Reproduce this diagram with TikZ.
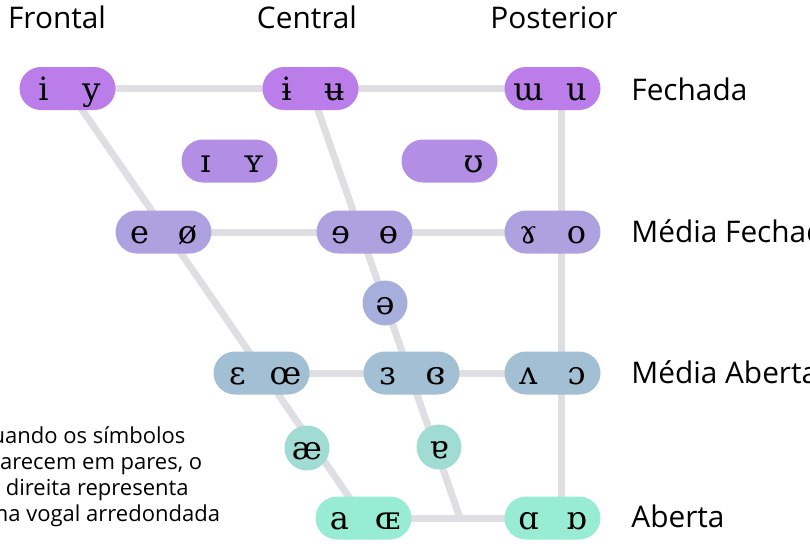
\documentclass[tikz,border=0pt]{standalone}
\usepackage{fontspec}
\setmainfont{Open Sans}
\newfontfamily\ipafont{DejaVu Serif}
\usetikzlibrary{backgrounds}
\definecolor{fechada}{RGB}{186,125,233}
\definecolor{quasefechada}{RGB}{178,142,228}
\definecolor{mediafechada}{RGB}{173,162,223}
\definecolor{media}{RGB}{166,175,219}
\definecolor{mediaaberta}{RGB}{163,191,212}
\definecolor{quaseaberta}{RGB}{160,220,212}
\definecolor{aberta}{RGB}{152,236,212}
\definecolor{linha}{RGB}{223,222,227}
\newcommand\pair[2]{\makebox[24pt]{#1}\makebox[24pt]{#2}}
\tikzset{
  vowel/.style={rectangle, rounded corners=10.75pt, minimum width=47.5pt,
    minimum height=21.5pt, inner sep=0pt, text height=11.5pt, text depth=0pt,
    font=\ipafont\fontsize{16}{16}\selectfont},
  single/.style={circle, minimum size=22.5pt, inner sep=0pt, text height=11.5pt,
    text depth=0pt, font=\ipafont\fontsize{16}{16}\selectfont},
  link/.style={draw=linha, line width=3.5pt},
  eixo/.style={inner sep=0pt, font=\fontsize{14.9}{18}\selectfont},
}
\begin{document}
\begin{tikzpicture}[x=0.5pt, y=-0.5pt]
      \useasboundingbox (0,0) rectangle (810,547);
      \clip (0,0) rectangle (810,547);
      % cabecalhos
      \draw
        (57,28) node[eixo, anchor=base] (frontal){Frontal}
        (307,28) node[eixo, anchor=base] (central){Central}
        (554,28) node[eixo, anchor=base] (posterior){Posterior}
        (631,100) node[eixo, anchor=base west] (lfechada){Fechada}
        (631,242) node[eixo, anchor=base west] (lmediafechada){Média Fechada}
        (631,383) node[eixo, anchor=base west] (lmediaaberta){Média Aberta}
        (631,527) node[eixo, anchor=base west] (laberta){Aberta};
      % vogais
      \draw
        (67.5,88.5) node[vowel, fill=fechada] (iy){\pair{i}{y}}
        (310.5,88.5) node[vowel, fill=fechada] (iu){\pair{ɨ}{ʉ}}
        (552.5,88.5) node[vowel, fill=fechada] (wu){\pair{ɯ}{u}}
        (229.5,161) node[vowel, fill=quasefechada] (IY){\pair{ɪ}{ʏ}}
        (449.5,161) node[vowel, fill=quasefechada] (U){\pair{}{ʊ}}
        (163.5,232) node[vowel, fill=mediafechada] (eo){\pair{e}{ø}}
        (364.5,232) node[vowel, fill=mediafechada] (ee){\pair{ɘ}{ɵ}}
        (552.5,232) node[vowel, fill=mediafechada] (go){\pair{ɤ}{o}}
        (385,303) node[single, fill=media] (schwa){ə}
        (261.5,373) node[vowel, fill=mediaaberta] (Eoe){\pair{ɛ}{œ}}
        (411.5,373) node[vowel, fill=mediaaberta] (ErB){\pair{ɜ}{ɞ}}
        (552.5,373) node[vowel, fill=mediaaberta] (vc){\pair{ʌ}{ɔ}}
        (307,448) node[single, fill=quaseaberta] (ae){æ}
        (439,447) node[single, fill=quaseaberta] (tA){ɐ}
        (363.5,518) node[vowel, fill=aberta] (aOE){\pair{a}{ɶ}}
        (552.5,518) node[vowel, fill=aberta] (ab){\pair{ɑ}{ɒ}};
      \coordinate (back) at (561,0);
      \coordinate (junction) at (460,518);
      \node[anchor=north west, inner sep=0pt, align=left,
        font=\fontsize{11}{13}\selectfont] (nota) at (-26,426)
        {Quando os símbolos\\aparecem em pares, o\\da direita representa\\uma vogal arredondada};
      \begin{scope}[on background layer]
        \draw[link] (iy.center) -- (wu.center);
        \draw[link] (eo.center) -- (go.center);
        \draw[link] (Eoe.center) -- (vc.center);
        \draw[link] (aOE.center) -- (ab.center);
        \draw[link] (wu -| back) -- (ab -| back);
        \draw[link] (iy.center) -- (aOE.center);
        \draw[link] (iu.center) -- (junction);
      \end{scope}
    \end{tikzpicture}
\end{document}
